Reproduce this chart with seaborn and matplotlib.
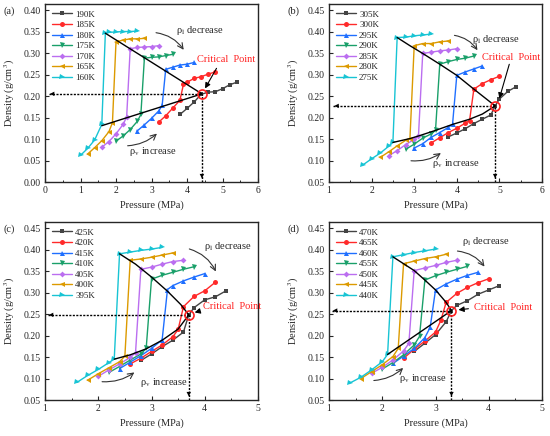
import numpy as np
import pandas as pd
import matplotlib
matplotlib.use("Agg")
import matplotlib.pyplot as plt
from matplotlib.ticker import MultipleLocator
import seaborn as sns

# ---- data ----
# panel (a)
a_temps = ["190K", "185K", "180K", "175K", "170K", "165K", "160K"]
a_p = [
    [3.8, 4.0, 4.2, 4.4, 4.6, 4.8, 5.0, 5.2, 5.4],
    [3.2, 3.4, 3.6, 3.8, 3.9, 4.0, 4.2, 4.4, 4.6, 4.8],
    [2.6, 2.8, 3.0, 3.2, 3.3, 3.4, 3.6, 3.8, 4.0, 4.2],
    [2.0, 2.2, 2.4, 2.6, 2.7, 2.8, 3.0, 3.2, 3.4, 3.6],
    [1.6, 1.8, 2.0, 2.2, 2.3, 2.4, 2.6, 2.8, 3.0, 3.2],
    [1.2, 1.4, 1.6, 1.8, 1.9, 2.0, 2.2, 2.4, 2.6, 2.8],
    [1.0, 1.2, 1.4, 1.6, 1.7, 1.8, 2.0, 2.2, 2.4, 2.6],
]
a_rho = [
    [0.157, 0.171, 0.186, 0.204, 0.209, 0.210, 0.217, 0.226, 0.232],
    [0.139, 0.154, 0.172, 0.190, 0.227, 0.232, 0.241, 0.245, 0.251, 0.256],
    [0.119, 0.133, 0.148, 0.165, 0.178, 0.262, 0.267, 0.272, 0.274, 0.278],
    [0.095, 0.107, 0.122, 0.141, 0.157, 0.288, 0.290, 0.291, 0.294, 0.297],
    [0.081, 0.094, 0.112, 0.134, 0.151, 0.310, 0.313, 0.314, 0.315, 0.317],
    [0.065, 0.080, 0.096, 0.117, 0.138, 0.326, 0.330, 0.333, 0.333, 0.334],
    [0.062, 0.078, 0.098, 0.134, 0.346, 0.348, 0.349, 0.350, 0.350, 0.351],
]
a_crit = (4.42, 0.205)
a_liq_p, a_liq_rho = [1.7, 4.42], [0.346, 0.205]
a_vap_p, a_vap_rho = [1.6, 4.42], [0.131, 0.205]

# panel (b)
b_temps = ["305K", "300K", "295K", "290K", "285K", "280K", "275K"]
b_p = [
    [3.8, 4.0, 4.2, 4.4, 4.6, 4.8, 4.9, 5.0, 5.2, 5.4],
    [3.4, 3.6, 3.8, 4.0, 4.2, 4.3, 4.4, 4.6, 4.8, 5.0],
    [3.0, 3.2, 3.4, 3.6, 3.8, 3.9, 4.0, 4.2, 4.4, 4.6],
    [2.8, 3.0, 3.2, 3.4, 3.5, 3.6, 3.8, 4.0, 4.2, 4.4],
    [2.4, 2.6, 2.8, 3.0, 3.1, 3.2, 3.4, 3.6, 3.8, 4.0],
    [2.2, 2.4, 2.6, 2.8, 2.9, 3.0, 3.2, 3.4, 3.6, 3.8],
    [1.8, 2.0, 2.2, 2.4, 2.5, 2.6, 2.8, 3.0, 3.2, 3.4],
]
b_rho = [
    [0.155, 0.164, 0.174, 0.186, 0.196, 0.206, 0.227, 0.243, 0.261, 0.272],
    [0.141, 0.153, 0.165, 0.175, 0.187, 0.193, 0.266, 0.279, 0.288, 0.296],
    [0.129, 0.139, 0.154, 0.165, 0.177, 0.184, 0.298, 0.306, 0.313, 0.320],
    [0.126, 0.138, 0.152, 0.162, 0.170, 0.324, 0.330, 0.335, 0.338, 0.343],
    [0.111, 0.123, 0.137, 0.149, 0.157, 0.349, 0.352, 0.355, 0.357, 0.360],
    [0.107, 0.120, 0.134, 0.147, 0.151, 0.367, 0.372, 0.372, 0.376, 0.378],
    [0.090, 0.104, 0.117, 0.133, 0.142, 0.386, 0.387, 0.390, 0.392, 0.394],
]
b_crit = (4.9, 0.227)
b_liq_p = [2.6, 2.9, 3.2, 3.6, 4.0, 4.4, 4.9]
b_liq_rho = [0.386, 0.367, 0.349, 0.324, 0.298, 0.266, 0.227]
b_vap_p = [2.5, 2.9, 3.1, 3.5, 3.9, 4.3, 4.6, 4.9]
b_vap_rho = [0.142, 0.151, 0.157, 0.170, 0.184, 0.196, 0.208, 0.227]

# panel (c)
c_temps = ["425K", "420K", "415K", "410K", "405K", "400K", "395K"]
c_p = [
    [2.8, 3.0, 3.2, 3.4, 3.6, 3.7, 3.8, 4.0, 4.2, 4.4],
    [2.6, 2.8, 3.0, 3.2, 3.4, 3.5, 3.6, 3.8, 4.0, 4.2],
    [2.4, 2.6, 2.8, 3.0, 3.2, 3.3, 3.4, 3.6, 3.8, 4.0],
    [2.2, 2.4, 2.6, 2.8, 2.9, 3.0, 3.2, 3.4, 3.6, 3.8],
    [2.0, 2.2, 2.4, 2.6, 2.7, 2.8, 3.0, 3.2, 3.4, 3.6],
    [1.8, 2.0, 2.2, 2.4, 2.5, 2.6, 2.8, 3.0, 3.2, 3.4],
    [1.6, 1.8, 2.0, 2.2, 2.3, 2.4, 2.6, 2.8, 3.0, 3.2],
]
c_rho = [
    [0.142, 0.157, 0.174, 0.189, 0.208, 0.248, 0.265, 0.283, 0.290, 0.304],
    [0.134, 0.147, 0.163, 0.178, 0.197, 0.214, 0.267, 0.291, 0.304, 0.324],
    [0.123, 0.138, 0.153, 0.170, 0.190, 0.307, 0.316, 0.327, 0.336, 0.344],
    [0.114, 0.128, 0.143, 0.157, 0.170, 0.331, 0.340, 0.347, 0.354, 0.360],
    [0.105, 0.120, 0.134, 0.149, 0.160, 0.354, 0.359, 0.366, 0.372, 0.375],
    [0.096, 0.111, 0.125, 0.139, 0.152, 0.375, 0.378, 0.382, 0.387, 0.392],
    [0.091, 0.107, 0.121, 0.137, 0.145, 0.390, 0.394, 0.398, 0.401, 0.405],
]
c_crit = (3.7, 0.248)
c_liq_p = [2.4, 2.7, 3.0, 3.3, 3.55, 3.7]
c_liq_rho = [0.390, 0.366, 0.336, 0.303, 0.272, 0.248]
c_vap_p = [2.3, 2.6, 2.9, 3.2, 3.5, 3.7]
c_vap_rho = [0.145, 0.155, 0.169, 0.189, 0.215, 0.248]

# panel (d)
d_temps = ["470K", "465K", "460K", "455K", "450K", "445K", "440K"]
d_p = [
    [2.6, 2.8, 3.0, 3.2, 3.3, 3.4, 3.6, 3.8, 4.0, 4.2],
    [2.4, 2.6, 2.8, 3.0, 3.1, 3.2, 3.4, 3.6, 3.8, 4.0],
    [2.2, 2.4, 2.6, 2.8, 2.9, 3.0, 3.2, 3.4, 3.6, 3.8],
    [2.0, 2.2, 2.4, 2.6, 2.7, 2.8, 3.0, 3.2, 3.4, 3.6],
    [1.8, 2.0, 2.2, 2.4, 2.5, 2.6, 2.8, 3.0, 3.2, 3.4],
    [1.6, 1.8, 2.0, 2.2, 2.3, 2.4, 2.6, 2.8, 3.0, 3.2],
    [1.4, 1.6, 1.8, 2.0, 2.1, 2.2, 2.4, 2.6, 2.8, 3.0],
]
d_rho = [
    [0.163, 0.182, 0.202, 0.232, 0.258, 0.270, 0.281, 0.296, 0.306, 0.316],
    [0.147, 0.168, 0.187, 0.208, 0.235, 0.277, 0.298, 0.312, 0.323, 0.332],
    [0.135, 0.152, 0.170, 0.195, 0.219, 0.306, 0.320, 0.331, 0.340, 0.347],
    [0.122, 0.137, 0.155, 0.178, 0.198, 0.329, 0.339, 0.347, 0.354, 0.361],
    [0.112, 0.126, 0.143, 0.164, 0.182, 0.351, 0.357, 0.363, 0.370, 0.375],
    [0.100, 0.116, 0.132, 0.151, 0.170, 0.367, 0.373, 0.379, 0.383, 0.389],
    [0.090, 0.103, 0.120, 0.139, 0.156, 0.383, 0.388, 0.393, 0.397, 0.401],
]
d_crit = (3.3, 0.258)
d_liq_p = [2.2, 2.4, 2.6, 2.8, 3.0, 3.2, 3.3]
d_liq_rho = [0.383, 0.367, 0.351, 0.329, 0.306, 0.277, 0.258]
d_vap_p = [2.1, 3.3]
d_vap_rho = [0.156, 0.258]

# ---- styling ----
colors = ["#444444", "#ff2a2a", "#1f6fff", "#1aa06a", "#bb6ef0", "#dc9a00", "#18c4d4"]
markers = ["s", "o", "^", "v", "D", "<", ">"]
msizes = [3.2, 3.6, 3.6, 3.6, 3.0, 3.6, 3.6]

sns.set_style("ticks")
plt.rcParams["font.family"] = ["Liberation Serif", "DejaVu Serif"]
plt.rcParams["mathtext.fontset"] = "stix"
plt.rcParams["axes.linewidth"] = 1.0

fig = plt.figure(figsize=(5.5, 4.36), dpi=100)
TXT = 7.5


def panel(rect, label, temps, ps, rhos, crit, liq, vap, xlim, ylim, xt, yt,
          txt_dec, arr_dec, txt_cp, arr_cp, txt_inc, arr_inc, hline_end):
    ax = fig.add_axes(rect)
    for t, p, r, c, m, ms in zip(temps, ps, rhos, colors, markers, msizes):
        df = pd.DataFrame({"p": p, "rho": r})
        sns.lineplot(data=df, x="p", y="rho", ax=ax, sort=False, estimator=None,
                     color=c, marker=m, markersize=ms, markeredgewidth=0,
                     linewidth=1.0, label=t)
    # phase boundary lines
    sns.lineplot(x=liq[0], y=liq[1], ax=ax, sort=False, estimator=None,
                 color="black", linewidth=1.0, legend=False)
    sns.lineplot(x=vap[0], y=vap[1], ax=ax, sort=False, estimator=None,
                 color="black", linewidth=1.0, legend=False)
    # dotted guide lines with arrow heads
    cx, cy = crit
    ax.plot([hline_end, cx], [cy, cy], color="black", ls=(0, (1.5, 1)), lw=1.0)
    ax.plot([cx, cx], [ylim[0], cy], color="black", ls=(0, (1.5, 1)), lw=1.0)
    ax.annotate("", xy=(hline_end - 0.04, cy), xytext=(hline_end + 0.2, cy),
                arrowprops=dict(arrowstyle="-|>", color="black", lw=0, mutation_scale=8))
    ax.annotate("", xy=(cx, ylim[0] + 0.002), xytext=(cx, ylim[0] + 0.03),
                arrowprops=dict(arrowstyle="-|>", color="black", lw=0, mutation_scale=8))
    ax.plot([cx], [cy], marker="o", ms=6.5, mfc="none", mec="#ff2020", mew=1.2)
    # annotations
    ax.text(txt_dec[0], txt_dec[1], "ρ$_\\mathrm{l}$ decrease", fontsize=TXT, va="center")
    ax.annotate("", xy=arr_dec[1], xytext=arr_dec[0],
                arrowprops=dict(arrowstyle="->", color="#333333", lw=0.8,
                                connectionstyle="arc3,rad=-0.25"))
    ax.text(txt_cp[0], txt_cp[1], "Critical  Point", fontsize=TXT, color="#ff2020", va="center")
    ax.annotate("", xy=arr_cp[1], xytext=arr_cp[0],
                arrowprops=dict(arrowstyle="-|>", color="black", lw=0.8, mutation_scale=8))
    ax.text(txt_inc[0], txt_inc[1], "ρ$_\\mathrm{v}$ increase", fontsize=TXT, va="center")
    ax.annotate("", xy=arr_inc[1], xytext=arr_inc[0],
                arrowprops=dict(arrowstyle="->", color="#333333", lw=0.8,
                                connectionstyle="arc3,rad=0.2"))

    ax.set_xlim(xlim)
    ax.set_ylim(ylim)
    ax.set_xticks(xt)
    ax.xaxis.set_minor_locator(MultipleLocator(0.5))
    ax.set_yticks(yt)
    ax.set_yticklabels([f"{v:.2f}" for v in yt])
    ax.tick_params(which="major", direction="in", labelsize=7, length=3, width=0.8, pad=3)
    ax.tick_params(which="minor", direction="in", length=1.8, width=0.7)
    ax.set_xlabel("Pressure (MPa)", fontsize=TXT, labelpad=4)
    ax.set_ylabel("Density (g/cm$^3$)", fontsize=TXT, labelpad=5)
    for s in ax.spines.values():
        s.set_visible(True)
    ax.legend(loc="upper left", bbox_to_anchor=(0.035, 0.965), frameon=False,
              fontsize=6.5, labelspacing=0.25, handlelength=2.2, handletextpad=0.3,
              borderaxespad=0, borderpad=0)
    fig.text(rect[0] - 0.076, rect[1] + rect[3] - 7 / 436, label, fontsize=TXT, va="center")
    return ax


w, h = 213 / 550, 178 / 436
panel([45 / 550, 1 - 182 / 436, w, h], "(a)", a_temps, a_p, a_rho, a_crit,
      (a_liq_p, a_liq_rho), (a_vap_p, a_vap_rho), (0, 6), (0, 0.414),
      np.arange(0, 7, 1), np.round(np.arange(0, 0.401, 0.05), 2),
      (3.7, 0.352), ((3.05, 0.348), (3.95, 0.302)),
      (4.28, 0.285), ((4.87, 0.27), (4.47, 0.212)),
      (2.36, 0.07), ((2.25, 0.084), (3.21, 0.117)), 0.1)

panel([329 / 550, 1 - 182 / 436, w, h], "(b)", b_temps, b_p, b_rho, b_crit,
      (b_liq_p, b_liq_rho), (b_vap_p, b_vap_rho), (1, 6), (0.05, 0.464),
      np.arange(1, 7, 1), np.round(np.arange(0.05, 0.451, 0.05), 2),
      (4.35, 0.382), ((3.88, 0.392), (4.52, 0.351)),
      (4.59, 0.340), ((5.25, 0.330), (4.98, 0.238)),
      (3.41, 0.093), ((2.86, 0.100), (3.68, 0.121)), 1.1)

panel([45 / 550, 1 - 400 / 436, w, h], "(c)", c_temps, c_p, c_rho, c_crit,
      (c_liq_p, c_liq_rho), (c_vap_p, c_vap_rho), (1, 5), (0.05, 0.464),
      np.arange(1, 6, 1), np.round(np.arange(0.05, 0.451, 0.05), 2),
      (3.98, 0.407), ((3.66, 0.403), (4.23, 0.343)),
      (3.96, 0.267), ((3.91, 0.257), (3.76, 0.252)),
      (2.78, 0.090), ((2.02, 0.093), (2.72, 0.118)), 1.06)

panel([329 / 550, 1 - 400 / 436, w, h], "(d)", d_temps, d_p, d_rho, d_crit,
      (d_liq_p, d_liq_rho), (d_vap_p, d_vap_rho), (1, 5), (0.05, 0.464),
      np.arange(1, 6, 1), np.round(np.arange(0.05, 0.451, 0.05), 2),
      (3.49, 0.419), ((3.36, 0.397), (3.95, 0.355)),
      (3.72, 0.265), ((3.67, 0.263), (3.38, 0.259)),
      (2.31, 0.099), ((1.79, 0.095), (2.43, 0.129)), 1.06)

fig.savefig("out.png", dpi=100)
